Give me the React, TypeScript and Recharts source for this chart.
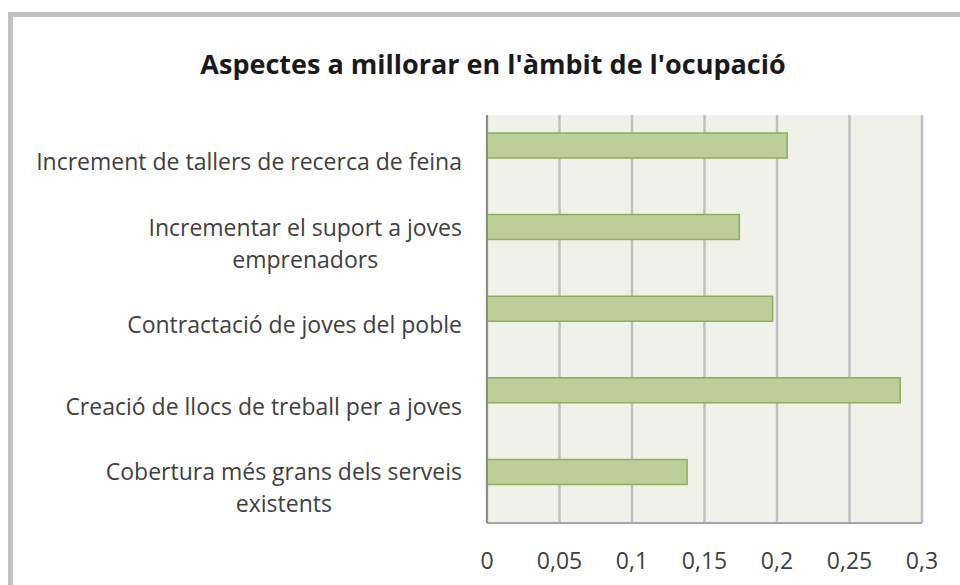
import React from 'react';
import { BarChart, Bar, XAxis, YAxis, CartesianGrid } from 'recharts';

const TITLE = "Aspectes a millorar en l'àmbit de l'ocupació";

const CATEGORIES = [
  'Increment de tallers de recerca de feina',
  'Incrementar el suport a joves emprenadors',
  'Contractació de joves del poble',
  'Creació de llocs de treball per a joves',
  'Cobertura més grans dels serveis existents',
];

const VALUES = [0.207, 0.174, 0.197, 0.285, 0.138];

const X_TICKS = [0, 0.05, 0.1, 0.15, 0.2, 0.25, 0.3];

const data = CATEGORIES.map((name, i) => ({ name, value: VALUES[i] }));

const FONT = '"Open Sans", Lato, sans-serif';
const LABEL_SIZE = 23;
const WRAP_WIDTH = 440;
const LINE_H = 32;

let ctx: CanvasRenderingContext2D | null = null;
function measure(s: string) {
  if (!ctx) ctx = document.createElement('canvas').getContext('2d');
  if (!ctx) return s.length * LABEL_SIZE * 0.5;
  ctx.font = `${LABEL_SIZE}px ${FONT}`;
  return ctx.measureText(s).width;
}

// word wrap like Excel does for long category names
function wrap(label: string): string[] {
  const lines: string[] = [];
  let cur = '';
  label.split(' ').forEach((w) => {
    const next = cur ? `${cur} ${w}` : w;
    if (cur && measure(next) > WRAP_WIDTH) {
      lines.push(cur);
      cur = w;
    } else {
      cur = next;
    }
  });
  if (cur) lines.push(cur);
  return lines;
}

interface TickProps { x?: number; y?: number; payload?: { value: string } }

const CategoryTick = ({ x = 0, y = 0, payload }: TickProps) => {
  const lines = wrap(payload?.value ?? '');
  // the line block is centered a bit under the bar
  const cy = y + 16;
  const first = cy - ((lines.length - 1) * LINE_H) / 2;
  return (
    <g>
      {lines.map((ln, i) => (
        <text
          key={i}
          x={x}
          y={first + i * LINE_H}
          dy="0.36em"
          textAnchor={lines.length > 1 && i > 0 ? 'middle' : 'end'}
          dx={lines.length > 1 && i > 0 ? -measure(lines[0]) / 2 : 0}
          fill="#404040"
          fontSize={LABEL_SIZE}
          fontFamily={FONT}
        >
          {ln}
        </text>
      ))}
    </g>
  );
};

export default function App() {
  return (
    <div style={{ position: 'fixed', left: 0, top: 0, width: 960, height: 585, overflow: 'hidden', background: '#fff' }}>
      {/* chart frame, runs past the right and bottom edges */}
      <div
        style={{
          position: 'absolute', left: 8, top: 12, width: 1000, height: 1000,
          borderLeft: '5px solid #c2c2c2', borderTop: '5px solid #c2c2c2',
        }}
      />
      <div
        style={{
          position: 'absolute', left: 10, width: 966, top: 45, textAlign: 'center',
          fontFamily: FONT, fontWeight: 700, fontSize: 27, color: '#1a1a1a',
        }}
      >
        {TITLE}
      </div>
      <div style={{ position: 'absolute', left: 0, top: 0 }}>
        <BarChart
          width={960}
          height={585}
          data={data}
          layout="vertical"
          margin={{ top: 115, right: 38, bottom: 32, left: 0 }}
        >
          <CartesianGrid horizontal={false} stroke="#bfbfbf" strokeWidth={2.5} fill="#f0f2ea" />
          <XAxis
            type="number"
            domain={[0, 0.3]}
            ticks={X_TICKS}
            tickFormatter={(v: number) => String(v).replace('.', ',')}
            axisLine={{ stroke: '#a6a6a6', strokeWidth: 2 }}
            tickLine={false}
            tickMargin={24}
            tick={{ fill: '#404040', fontSize: LABEL_SIZE, fontFamily: FONT }}
          />
          <YAxis
            type="category"
            dataKey="name"
            width={487}
            padding={{ top: -10, bottom: 10 }}
            axisLine={{ stroke: '#8c8c8c', strokeWidth: 2 }}
            tickLine={false}
            tickMargin={19}
            tick={<CategoryTick />}
            interval={0}
          />
          <Bar
            dataKey="value"
            fill="#bccf98"
            stroke="#8fac5f"
            strokeWidth={1.5}
            barSize={25}
            isAnimationActive={false}
          />
        </BarChart>
      </div>
    </div>
  );
}
